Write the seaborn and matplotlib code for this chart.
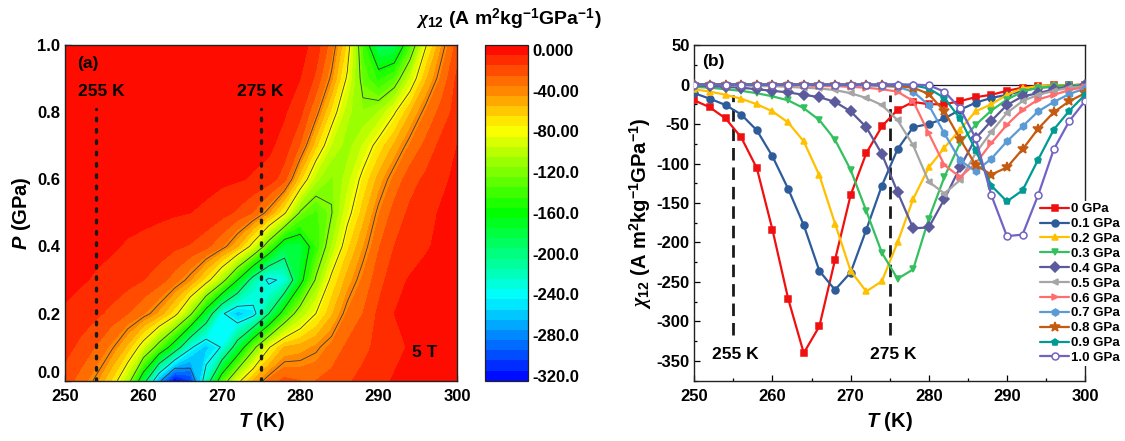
import numpy as np
import pandas as pd
import matplotlib
matplotlib.use("Agg")
import matplotlib.pyplot as plt
from matplotlib.colors import LinearSegmentedColormap
from matplotlib.ticker import MultipleLocator
import seaborn as sns

# temperature grid (K) shared by every pressure series
T_K = list(range(250, 301, 2))
PRESSURES = [0.0, 0.1, 0.2, 0.3, 0.4, 0.5, 0.6, 0.7, 0.8, 0.9, 1.0]
LABELS = ["0 GPa", "0.1 GPa", "0.2 GPa", "0.3 GPa", "0.4 GPa", "0.5 GPa",
          "0.6 GPa", "0.7 GPa", "0.8 GPa", "0.9 GPa", "1.0 GPa"]

# chi_12 (A m2 kg-1 GPa-1)
CHI_00 = [-20, -29, -43, -67, -106, -184, -271, -340, -306, -222, -140, -87, -53,
          -32, -22, -25, -25, -21, -16, -13, -8, -4, -2, -1, -1, 0]
CHI_01 = [-11, -18, -26, -38, -58, -91, -132, -178, -236, -260, -238, -184, -128,
          -82, -54, -50, -43, -32, -23, -17, -13, -8, -4, -3, -2, -1]
CHI_02 = [-6, -9, -13, -18, -25, -34, -48, -72, -115, -176, -236, -262, -249,
          -200, -145, -105, -80, -57, -34, -25, -13, -5, -2, -1, -1, 0]
CHI_03 = [-3, -4, -6, -8, -11, -15, -20, -30, -45, -70, -108, -160, -213,
          -246, -234, -170, -117, -74, -51, -33, -19, -9, -4, -2, -1, 0]
CHI_04 = [-1, -2, -3, -4, -6, -8, -10, -13, -16, -22, -34, -54, -88,
          -136, -182, -181, -145, -105, -68, -46, -26, -15, -11, -6, -3, -1]
CHI_05 = [0, 0, -1, -1, -2, -2, -3, -4, -5, -7, -11, -17, -26,
          -45, -77, -123, -138, -121, -87, -60, -36, -21, -13, -8, -4, -2]
CHI_06 = [0, 0, 0, 0, 0, -1, -1, -1, -2, -2, -3, -4, -6,
          -9, -21, -62, -102, -117, -100, -74, -51, -32, -19, -13, -7, -3]
CHI_07 = [0, 0, 0, 0, 0, 0, 0, 0, 0, -1, -1, -1, -2,
          -3, -9, -26, -62, -96, -110, -94, -72, -53, -34, -22, -12, -5]
CHI_08 = [0, 0, 0, 0, 0, 0, 0, 0, 0, 0, 0, 0, -1,
          -2, -4, -12, -34, -69, -102, -114, -105, -82, -56, -35, -21, -11]
CHI_09 = [0, 0, 0, 0, 0, 0, 0, 0, 0, 0, 0, 0, 0,
          0, -1, -5, -17, -43, -83, -128, -148, -134, -95, -57, -33, -13]
CHI_10 = [0, 0, 0, 0, 0, 0, 0, 0, 0, 0, 0, 0, 0,
          0, 0, -1, -9, -30, -68, -140, -192, -190, -140, -82, -46, -21]
CHI = [CHI_00, CHI_01, CHI_02, CHI_03, CHI_04, CHI_05,
       CHI_06, CHI_07, CHI_08, CHI_09, CHI_10]

COLORS = ["#f01010", "#2e5c9a", "#ffc000", "#35c060", "#5a5a9c", "#a5a5a5",
          "#ff6e6e", "#5b9bd5", "#c55a11", "#009a94", "#7163c4"]
MARKERS = ["s", "o", "^", "v", "D", "<", ">", "h", "*", "p", "o"]

CBAR_TICKS = [0, -40, -80, -120, -160, -200, -240, -280, -320]
CBAR_LABELS = ["0.000", "-40.00", "-80.00", "-120.0", "-160.0", "-200.0",
               "-240.0", "-280.0", "-320.0"]
REF_T_A = [254, 275]     # dotted guides in (a)
REF_T_B = [255, 275]     # dashed guides in (b)

CHI_LABEL = r"$\chi_{\mathit{12}}$ (A m$^{\mathrm{2}}$kg$^{\mathrm{-1}}$GPa$^{\mathrm{-1}}$)"

sns.set_theme(style="ticks")
plt.rcParams.update({
    "font.family": ["Liberation Sans", "DejaVu Sans"],
    "font.weight": "bold",
    "axes.labelweight": "bold",
    "axes.unicode_minus": False,
    "mathtext.fontset": "custom",
    "mathtext.rm": "Liberation Sans:bold",
    "mathtext.bf": "Liberation Sans:bold",
    "mathtext.it": "Liberation Serif:italic",
    "mathtext.bfit": "Liberation Sans:bold:italic",
    "text.color": "black",
    "axes.labelcolor": "black",
    "xtick.color": "black", "ytick.color": "black",
    "xtick.direction": "in",
    "ytick.direction": "in",
    "xtick.major.size": 4, "ytick.major.size": 4,
    "xtick.minor.size": 2.5, "ytick.minor.size": 2.5,
    "xtick.major.width": 0.9, "ytick.major.width": 0.9,
    "xtick.minor.width": 0.9, "ytick.minor.width": 0.9,
    "xtick.major.pad": 6,
    "axes.linewidth": 1.0,
    "axes.edgecolor": "#222222",
    "xtick.labelsize": 12, "ytick.labelsize": 12,
    "axes.labelsize": 14.5,
})

fig = plt.figure(figsize=(11.25, 4.41), dpi=100)
ax_a = fig.add_axes([0.0578, 0.1367, 0.3484, 0.7612])
cax = fig.add_axes([0.4311, 0.1367, 0.0382, 0.7612])
ax_b = fig.add_axes([0.6172, 0.1367, 0.3473, 0.7612])

# ---- (a) contour map P vs T
Z = np.array(CHI, dtype=float)
cmap = LinearSegmentedColormap.from_list(
    "rainbow5", ["#0000ff", "#00ffff", "#00ff00", "#ffff00", "#ff0000"])
levels = np.arange(-325, 6, 10)
cs = ax_a.contourf(T_K, PRESSURES, np.clip(Z, -324.9, 4.9), levels=levels, cmap=cmap)
ax_a.contour(T_K, PRESSURES, Z, levels=np.arange(-280, -39, 40),
             colors="#3a3a3a", linewidths=0.6, linestyles="solid")
ax_a.vlines(REF_T_A, 0, 0.81, colors="k", linestyles=(0, (0.8, 2.6)), lw=2.4,
            capstyle="round")
ax_a.set_xlim(250, 300)
ax_a.set_ylim(0, 1)
ax_a.xaxis.set_major_locator(MultipleLocator(10))
ax_a.xaxis.set_minor_locator(MultipleLocator(5))
ax_a.yaxis.set_major_locator(MultipleLocator(0.2))
ax_a.yaxis.set_minor_locator(MultipleLocator(0.1))
ax_a.yaxis.set_major_formatter(lambda v, pos: f"{v:.1f}")
ax_a.tick_params(which="both", top=False, right=False)
ax_a.set_xlabel(r"$\mathbfit{T}$ (K)", labelpad=4)
ax_a.set_ylabel(r"$\mathbfit{P}$ (GPa)", labelpad=3)
ax_a.text(251.6, 0.945, "(a)", fontsize=12.5, va="center", ha="left")
ax_a.text(254.6, 0.861, "255 K", fontsize=12.5, va="center", ha="center")
ax_a.text(274.9, 0.861, "275 K", fontsize=12.5, va="center", ha="center")
ax_a.text(295.9, 0.083, "5 T", fontsize=12.5, va="center", ha="center")
# lift the "0.0" label a touch, as in the original, so it clears "250"
fig.canvas.draw()
for lab in ax_a.get_yticklabels():
    if lab.get_text() == "0.0":
        lab.set_verticalalignment("bottom")
        lab.set_y(-0.015)

cb = fig.colorbar(cs, cax=cax)
cb.set_ticks(CBAR_TICKS)
cb.set_ticklabels(CBAR_LABELS)
cb.ax.tick_params(direction="in", length=3, labelsize=12)
cb.outline.set_linewidth(0.9)
fig.text(0.452, 0.955, CHI_LABEL, ha="center", va="center", fontsize=14)

# ---- (b) chi_12 vs T curves
df = pd.DataFrame({
    "T": np.tile(T_K, len(PRESSURES)),
    "chi": np.concatenate(CHI),
    "P": np.repeat(PRESSURES, len(T_K)),
})
ax_b.axhline(0, color="k", lw=0.9, zorder=1)
for i, p in enumerate(PRESSURES):
    face = "white" if i == len(PRESSURES) - 1 else COLORS[i]
    sns.lineplot(data=df[df["P"] == p], x="T", y="chi", ax=ax_b,
                 color=COLORS[i], lw=1.6, marker=MARKERS[i],
                 markersize=5 if MARKERS[i] != "*" else 7,
                 markerfacecolor=face, markeredgecolor=COLORS[i],
                 markeredgewidth=1.1, label=LABELS[i], zorder=3 + i)
ax_b.vlines(REF_T_B, -317, -13, colors="k", linestyles=(0, (4.5, 2.5)), lw=2, zorder=2)
ax_b.text(255.3, -342, "255 K", fontsize=12.5, va="center", ha="center")
ax_b.text(275.5, -342, "275 K", fontsize=12.5, va="center", ha="center")
ax_b.text(252.4, 29, "(b)", fontsize=12.5, va="center", ha="center")
ax_b.set_xlim(250, 300)
ax_b.set_ylim(-375, 50)
ax_b.xaxis.set_major_locator(MultipleLocator(10))
ax_b.xaxis.set_minor_locator(MultipleLocator(5))
ax_b.yaxis.set_major_locator(MultipleLocator(50))
ax_b.yaxis.set_minor_locator(MultipleLocator(25))
ax_b.tick_params(which="both", top=False, right=False)
ax_b.set_xlabel(r"$\mathbfit{T}$ (K)", labelpad=4)
ax_b.set_ylabel(CHI_LABEL, labelpad=2)
leg = ax_b.legend(loc="upper left", bbox_to_anchor=(0.88, 0.535), fontsize=9.5,
                  handlelength=2.2, labelspacing=0.2, borderpad=0.15,
                  handletextpad=0.15, borderaxespad=0, frameon=True, fancybox=False)
leg.get_frame().set_facecolor("white")
leg.get_frame().set_edgecolor("none")
leg.get_frame().set_alpha(1)
leg.set_zorder(20)
for ax in (ax_a, ax_b):
    for s in ax.spines.values():
        s.set_visible(True)

fig.savefig("out.png", dpi=100)
